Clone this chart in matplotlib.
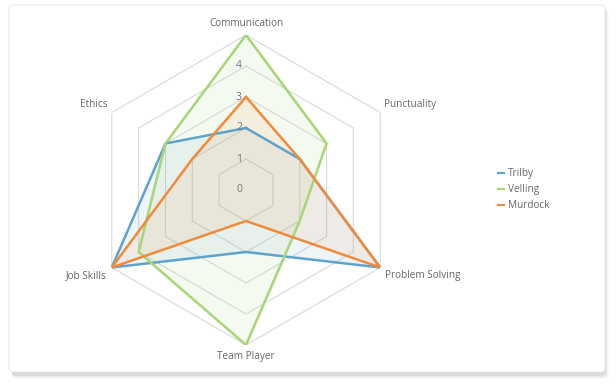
import numpy as np
import matplotlib
matplotlib.use("Agg")
import matplotlib.pyplot as plt
from matplotlib.patches import FancyBboxPatch

# -----------------------------
# DATA
# -----------------------------
categories = ["Communication", "Punctuality", "Problem Solving",
              "Team Player", "Job Skills", "Ethics"]
trilby = [2, 2, 5, 2, 5, 3]
velling = [5, 3, 2, 5, 4, 3]
murdock = [3, 2, 5, 1, 5, 2]
series_names = ["Trilby", "Velling", "Murdock"]
series_colors = ["#5ea3cc", "#a6d675", "#f08a3c"]
ring_levels = [1, 2, 3, 4, 5]
tick_labels = ["0", "1", "2", "3", "4"]

plt.rcParams["font.family"] = ["Open Sans", "DejaVu Sans"]

W, H = 616, 390
fig = plt.figure(figsize=(W / 100, H / 100), dpi=100)
fig.patch.set_facecolor("white")

# card with soft shadow
for i, a in enumerate([0.05, 0.04, 0.03, 0.02]):
    sh = FancyBboxPatch((12 / W, (H - 376 - i) / H), (594 + i) / W, (368) / H,
                        boxstyle="round,pad=0,rounding_size=0.008",
                        transform=fig.transFigure, facecolor="black",
                        edgecolor="none", alpha=a, zorder=-3)
    fig.add_artist(sh)
card = FancyBboxPatch((9 / W, (H - 372) / H), 596 / W, 367 / H,
                      boxstyle="round,pad=0,rounding_size=0.008",
                      transform=fig.transFigure, facecolor="white",
                      edgecolor="#e6e6e6", linewidth=0.6, zorder=-2)
fig.add_artist(card)

# -----------------------------
# RADAR AXES
# -----------------------------
cx, cy, R = 246, 190, 155
ax = fig.add_axes([(cx - R) / W, (H - cy - R) / H, 2 * R / W, 2 * R / H],
                  projection="polar")
ax.set_theta_zero_location("N")
ax.set_theta_direction(-1)
ax.set_ylim(0, 5)
ax.set_facecolor("none")
ax.grid(False)
ax.spines["polar"].set_visible(False)
ax.set_xticks([])
ax.set_yticks([])

n = len(categories)
angles = np.linspace(0, 2 * np.pi, n, endpoint=False)
closed = np.concatenate([angles, angles[:1]])

for lv in ring_levels:
    ax.plot(closed, [lv] * (n + 1), color="#d9d9d9", lw=0.8, zorder=1)

for name, vals, col in zip(series_names, [trilby, velling, murdock], series_colors):
    v = list(vals) + [vals[0]]
    ax.fill(closed, v, color=col, alpha=0.1, zorder=2, lw=0)
    ax.plot(closed, v, color=col, lw=1.8, label=name, zorder=3)

for i, t in enumerate(tick_labels):
    ax.annotate(t, (0, i), xytext=(-7, 0), textcoords="offset pixels",
                color="#777777", fontsize=7.5, ha="center", va="center",
                zorder=4)

# label offsets in pixels from the outer ring vertex
label_pos = {
    "Communication": (0, 12, "center"),
    "Punctuality": (4, 8, "left"),
    "Problem Solving": (5, -8, "left"),
    "Team Player": (0, -11, "center"),
    "Job Skills": (-5, -8, "right"),
    "Ethics": (-4, 8, "right"),
}
for th, c in zip(angles, categories):
    dx, dy, ha = label_pos[c]
    ax.annotate(c, (th, 5), xytext=(dx, dy), textcoords="offset pixels",
                color="#666666", fontsize=7.2, ha=ha, va="center")

leg = fig.legend(loc="upper left", bbox_to_anchor=(489 / W, 1 - 159 / H),
                 frameon=False, fontsize=7.2, handlelength=0.6,
                 handletextpad=0.4, labelspacing=0.5, labelcolor="#666666")
for h in leg.get_lines():
    h.set_linewidth(1.5)

fig.savefig("out.png", dpi=100)
